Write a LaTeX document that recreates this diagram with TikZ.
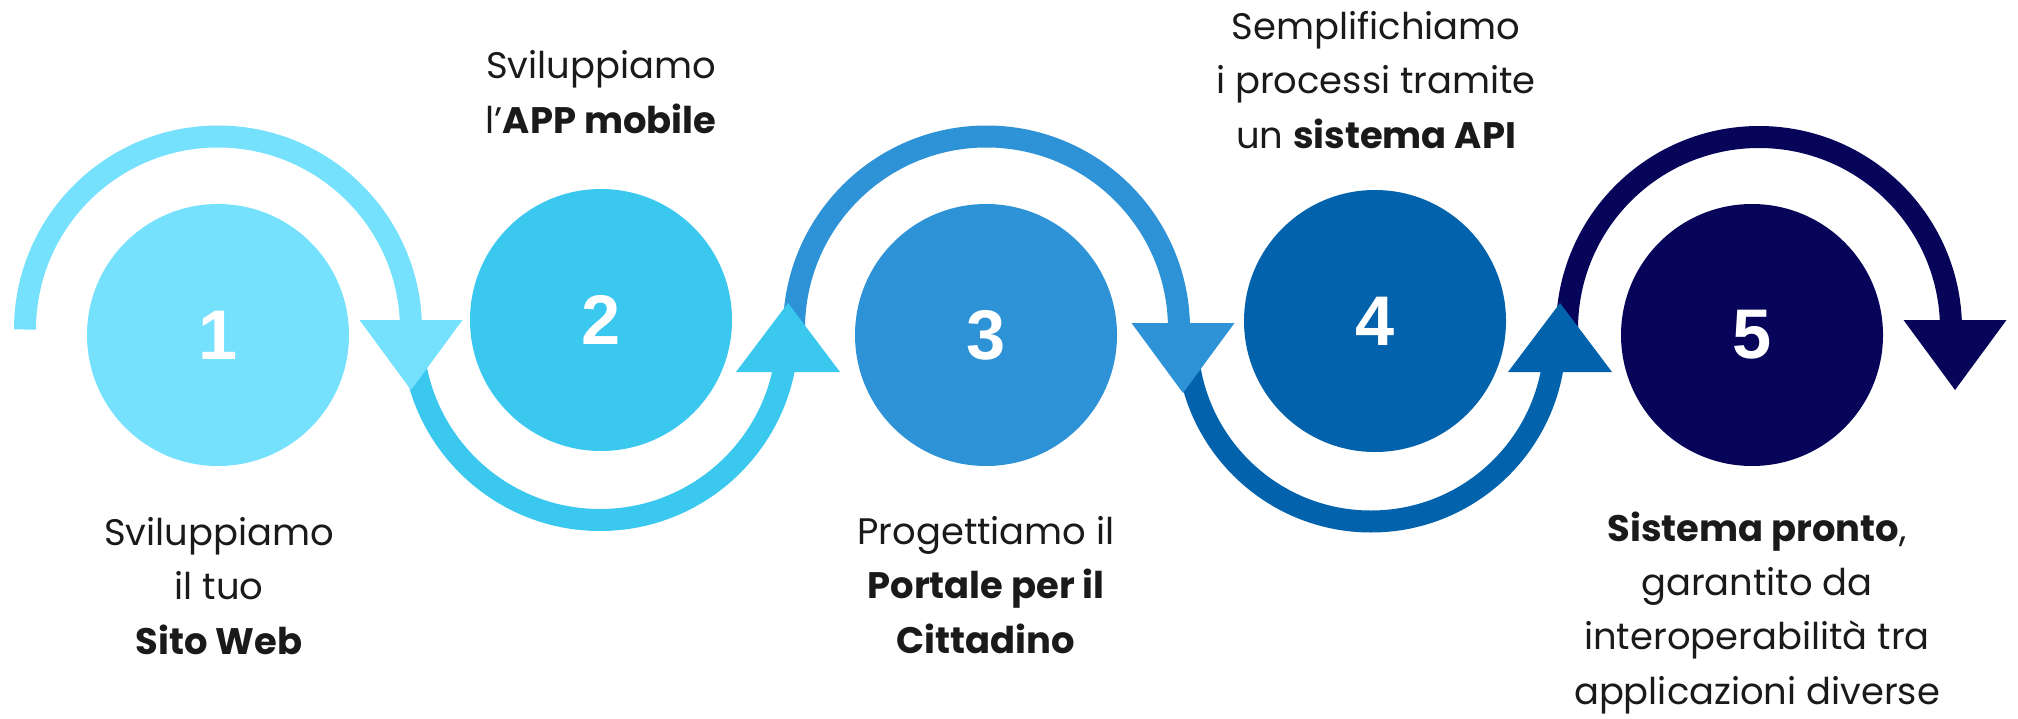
\documentclass[tikz,border=0pt]{standalone}
\usepackage{fontspec}
\setmainfont{Poppins}
\newfontfamily\digitfont{Liberation Sans}
\definecolor{blueA}{HTML}{76E1FD}
\definecolor{blueB}{HTML}{3AC8EF}
\definecolor{blueC}{HTML}{2E92D6}
\definecolor{blueD}{HTML}{0362AC}
\definecolor{blueE}{HTML}{06055A}
\definecolor{txtgray}{HTML}{1A1A1A}

\begin{document}
\begin{tikzpicture}[
  num/.style={circle,minimum size=2.62cm,inner sep=0pt,text=white,
    font=\digitfont\bfseries\fontsize{20}{24}\selectfont},
  band/.style={line width=0.22cm},
  caption/.style={align=center,text=txtgray,anchor=base,
    font=\fontsize{10.5}{15.4}\selectfont}]
\useasboundingbox (0,0) rectangle (20.18,7.18);
%
\draw[band,blueA] (0.25,3.885) arc[start angle=180,end angle=0,radius=1.93];
\draw[band,blueB] (4.125,3.855) arc[start angle=180,end angle=360,radius=1.875];
\draw[band,blueC] (7.94,3.89) arc[start angle=180,end angle=0,radius=1.925];
\draw[band,blueD] (11.87,3.805) arc[start angle=180,end angle=360,radius=1.84];
\draw[band,blueE] (15.67,3.89) arc[start angle=180,end angle=0,radius=1.92];
%
\fill[blueA] (4.11,3.28) -- ++(-0.515,0.7) -- ++(1.03,0) -- cycle;
\fill[blueB] (7.88,4.15) -- ++(-0.52,-0.69) -- ++(1.04,0) -- cycle;
\fill[blueC] (11.83,3.25) -- ++(-0.515,0.7) -- ++(1.03,0) -- cycle;
\fill[blueD] (15.60,4.15) -- ++(-0.52,-0.69) -- ++(1.04,0) -- cycle;
\fill[blueE] (19.55,3.28) -- ++(-0.515,0.7) -- ++(1.03,0) -- cycle;
%
\node[num,fill=blueA] (n1) at (2.18,3.83) {1};
\node[num,fill=blueB] (n2) at (6.01,3.98) {2};
\node[num,fill=blueC] (n3) at (9.86,3.83) {3};
\node[num,fill=blueD] (n4) at (13.75,3.97) {4};
\node[num,fill=blueE] (n5) at (17.52,3.83) {5};
%
\node[caption] (t1) at (2.19,0.64) {Sviluppiamo\\il tuo\\\textbf{Sito Web}};
\node[caption] (t2) at (6.01,5.85) {Sviluppiamo\\l’\textbf{APP mobile}};
\node[caption] (t3) at (9.86,0.65) {Progettiamo il\\\textbf{Portale per il}\\\textbf{Cittadino}};
\node[caption] (t4) at (13.76,5.70) {Semplifichiamo\\i processi tramite\\un \textbf{sistema API}};
\node[caption] (t5) at (17.57,0.14) {\textbf{Sistema pronto},\\garantito da\\interoperabilità tra\\applicazioni diverse};
\end{tikzpicture}
\end{document}
